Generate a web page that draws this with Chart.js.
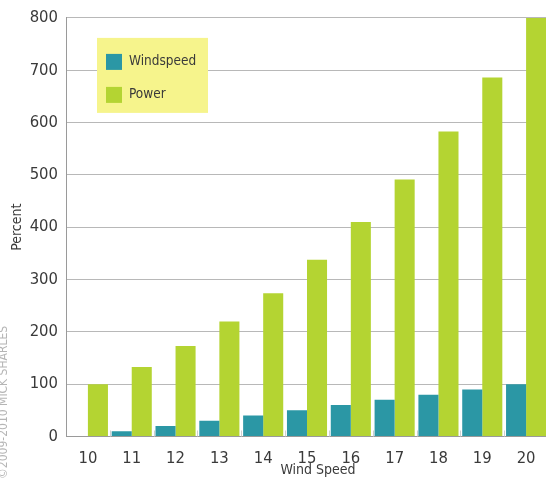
<!DOCTYPE html>
<html>
<head>
<meta charset="utf-8">
<script src="https://cdn.jsdelivr.net/npm/chart.js@4.4.1/dist/chart.umd.min.js"></script>
<style>
  html, body { margin: 0; padding: 0; background: #ffffff; overflow: hidden; }
  #wrap { width: 552px; height: 481px; position: relative; }
</style>
</head>
<body>
<div id="wrap"><canvas id="chart"></canvas></div>
<script>
// Wind speed (mph) and the percentage increase over the 10 mph reference
const speeds = ['10', '11', '12', '13', '14', '15', '16', '17', '18', '19', '20'];
const windspeedPct = [0, 10, 20, 30, 40, 50, 60, 70, 80, 90, 100];
const powerPct = [100, 133, 173, 220, 274, 338, 410, 491, 583, 686, 800];
const yTicks = [0, 100, 200, 300, 400, 500, 600, 700, 800];

const FONT = "'DejaVu Sans Condensed', 'Liberation Sans Narrow', 'Liberation Sans', sans-serif";
const TEXT = '#3a3a3a';
const TEAL = '#2b97a5';
const GREEN = '#b4d432';

// Yellow legend panel in the upper-left of the plot
const legendPanel = {
  id: 'legendPanel',
  afterDatasetsDraw(chart) {
    const ctx = chart.ctx;
    const area = chart.chartArea;
    const x = area.left + 31, y = area.top + 20;
    ctx.save();
    ctx.fillStyle = '#f6f48c';
    ctx.fillRect(x, y, 111, 75);
    ctx.font = '13.5px ' + FONT;
    ctx.textBaseline = 'middle';
    chart.data.datasets.forEach((ds, i) => {
      const rowY = y + 24 + i * 33;
      ctx.fillStyle = ds.backgroundColor;
      ctx.fillRect(x + 9, rowY - 8, 16, 16);
      ctx.fillStyle = TEXT;
      ctx.fillText(ds.label, x + 32, rowY);
    });
    ctx.restore();
  }
};

// Short separators between the bar groups along the baseline
const groupSeparators = {
  id: 'groupSeparators',
  beforeDatasetsDraw(chart) {
    const ctx = chart.ctx;
    const xs = chart.scales.x;
    const base = chart.scales.y.getPixelForValue(0);
    const half = (xs.getPixelForValue(1) - xs.getPixelForValue(0)) / 2;
    ctx.save();
    ctx.strokeStyle = '#cfcfcf';
    ctx.lineWidth = 1;
    for (let i = 1; i < speeds.length; i++) {
      const px = Math.round(xs.getPixelForValue(i) - half) + 0.5;
      ctx.beginPath();
      ctx.moveTo(px, base);
      ctx.lineTo(px, base - 6);
      ctx.stroke();
    }
    ctx.restore();
  }
};

// Axis title under the category labels, set slightly right of centre
const xTitle = {
  id: 'xTitle',
  afterDraw(chart) {
    const ctx = chart.ctx;
    const area = chart.chartArea;
    ctx.save();
    ctx.font = '14px ' + FONT;
    ctx.fillStyle = TEXT;
    ctx.textAlign = 'center';
    ctx.textBaseline = 'middle';
    ctx.fillText('Wind Speed', (area.left + area.right) / 2 + 11, chart.height - 11);
    ctx.restore();
  }
};

// Vertical copyright line along the left edge
const credit = {
  id: 'credit',
  afterDraw(chart) {
    const ctx = chart.ctx;
    ctx.save();
    ctx.translate(4, chart.height - 2);
    ctx.rotate(-Math.PI / 2);
    ctx.font = '12px ' + FONT;
    ctx.fillStyle = 'rgba(120,120,120,0.55)';
    ctx.textBaseline = 'middle';
    ctx.textAlign = 'left';
    ctx.fillText('\u00A92009-2010 MICK SHARLES', 0, 0);
    ctx.restore();
  }
};

new Chart(document.getElementById('chart'), {
  type: 'bar',
  data: {
    labels: speeds,
    datasets: [
      { label: 'Windspeed', data: windspeedPct, backgroundColor: TEAL, borderWidth: 0 },
      { label: 'Power', data: powerPct, backgroundColor: GREEN, borderWidth: 0 }
    ]
  },
  options: {
    responsive: true,
    maintainAspectRatio: false,
    animation: false,
    events: [],
    layout: { padding: { top: 17, right: 4, left: 0, bottom: 0 } },
    datasets: { bar: { categoryPercentage: 0.915, barPercentage: 1.0 } },
    plugins: {
      legend: { display: false },
      tooltip: { enabled: false }
    },
    scales: {
      x: {
        grid: { display: false },
        border: { display: true, color: '#9a9a9a', width: 1 },
        ticks: { color: TEXT, font: { family: FONT, size: 16.5 }, padding: 4, maxRotation: 0 },
        afterFit(scale) { scale.height = 44.5; }
      },
      y: {
        min: 0,
        max: 800,
        afterBuildTicks(scale) { scale.ticks = yTicks.map(v => ({ value: v })); },
        grid: { color: '#b8b8b8', lineWidth: 1, drawTicks: false },
        border: { display: true, color: '#9a9a9a', width: 1 },
        ticks: { color: TEXT, font: { family: FONT, size: 16.5 }, padding: 8 },
        title: {
          display: true, text: 'Percent', color: TEXT,
          font: { family: FONT, size: 14 }, padding: { top: 9, bottom: 0 }
        },
        afterFit(scale) { scale.width = 66; }
      }
    }
  },
  plugins: [groupSeparators, legendPanel, xTitle, credit]
});
</script>
</body>
</html>
